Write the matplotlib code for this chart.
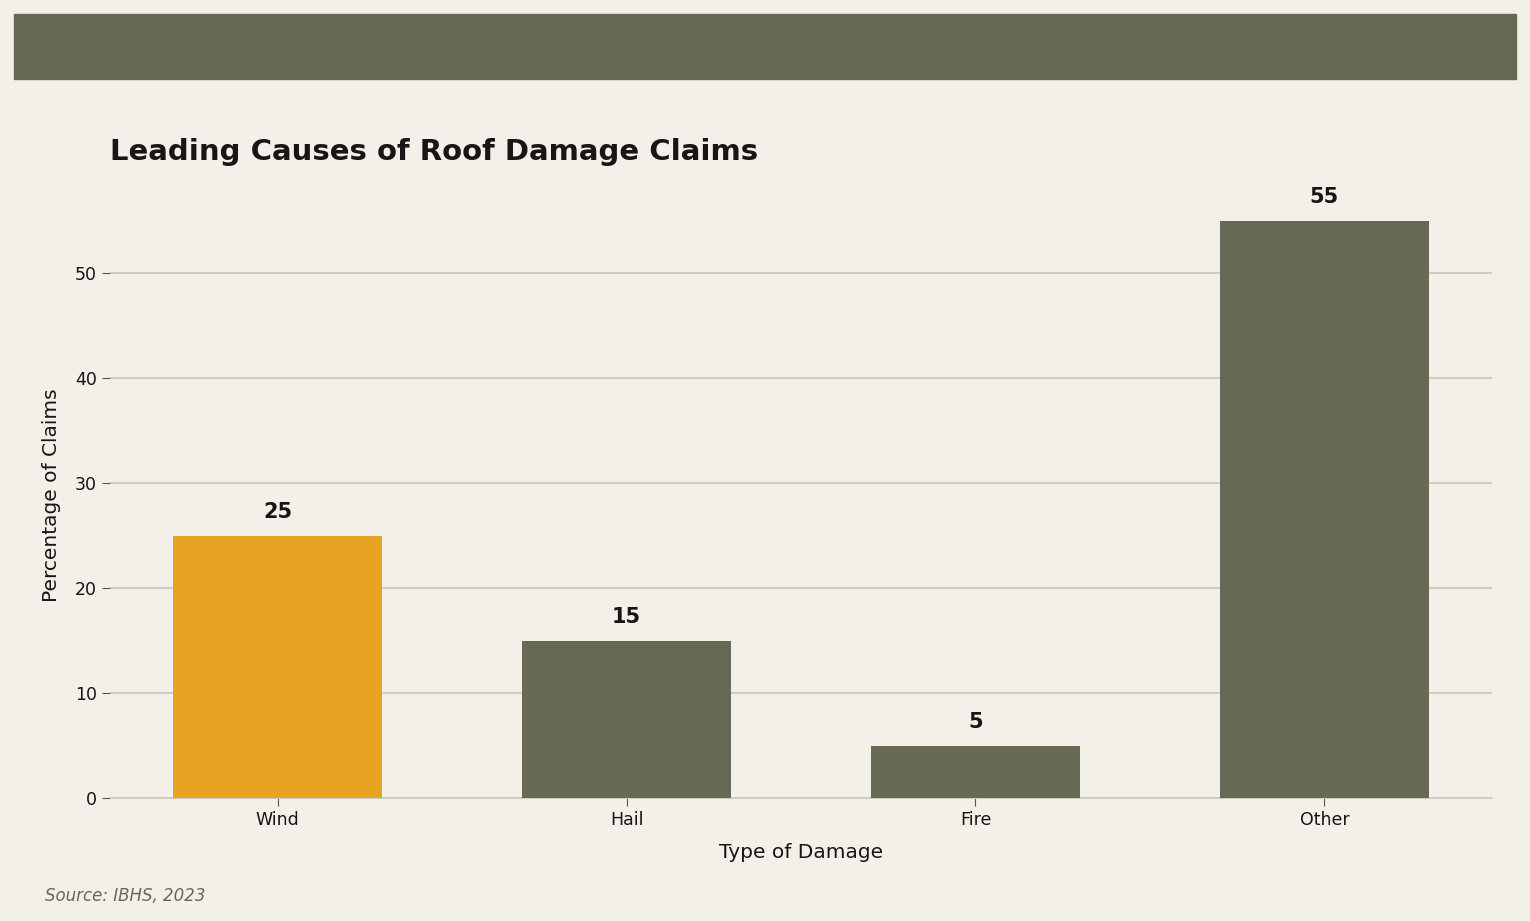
import matplotlib
matplotlib.use("Agg")
import matplotlib.pyplot as plt
from matplotlib.patches import Rectangle

categories = ["Wind", "Hail", "Fire", "Other"]
values = [25, 15, 5, 55]
colors = ["#E8A322", "#666A55", "#666A55", "#666A55"]

bg = "#F2F0E9"
fig = plt.figure(figsize=(15.3, 9.21), dpi=100, facecolor=bg)
fig.patches.append(Rectangle((14/1530, 1-79/921), 1502/1530, 65/921,
                             transform=fig.transFigure, color="#666A55", zorder=0))
ax = fig.add_axes([110/1530, 1-798/921, 1382/1530, 606/921], facecolor=bg)
x = range(len(categories))
ax.bar(x, values, width=0.6, color=colors, zorder=3)
for i, v in zip(x, values):
    ax.text(i, v + 1.3, str(v), ha="center", va="bottom", fontsize=15,
            fontweight="bold", color="#1a1414")
ax.set_xlim(-0.48, 3.48)
ax.set_ylim(0, 57.75)
ax.set_xticks(list(x))
ax.set_xticklabels(categories)
ax.set_yticks([0, 10, 20, 30, 40, 50])
ax.grid(axis="y", color="#CFCDBE", linewidth=1.5, zorder=0)
for s in ["top", "right", "left"]:
    ax.spines[s].set_visible(False)
ax.spines["bottom"].set_color("#CFCDBE")
ax.tick_params(axis="both", labelsize=12.5, colors="#1a1414", length=6, color="#555")
ax.set_xlabel("Type of Damage", fontsize=14.5, color="#1a1414", labelpad=10)
ax.set_ylabel("Percentage of Claims", fontsize=14.5, color="#1a1414", labelpad=10)
fig.text(110/1530, 1-152/921, "Leading Causes of Roof Damage Claims", fontsize=21,
         fontweight="bold", color="#1a1414", va="center")
fig.text(45/1530, 1-896/921, "Source: IBHS, 2023", fontsize=12, style="italic",
         color="#666A55", va="center")
fig.savefig("out.png", dpi=100, facecolor=bg)
